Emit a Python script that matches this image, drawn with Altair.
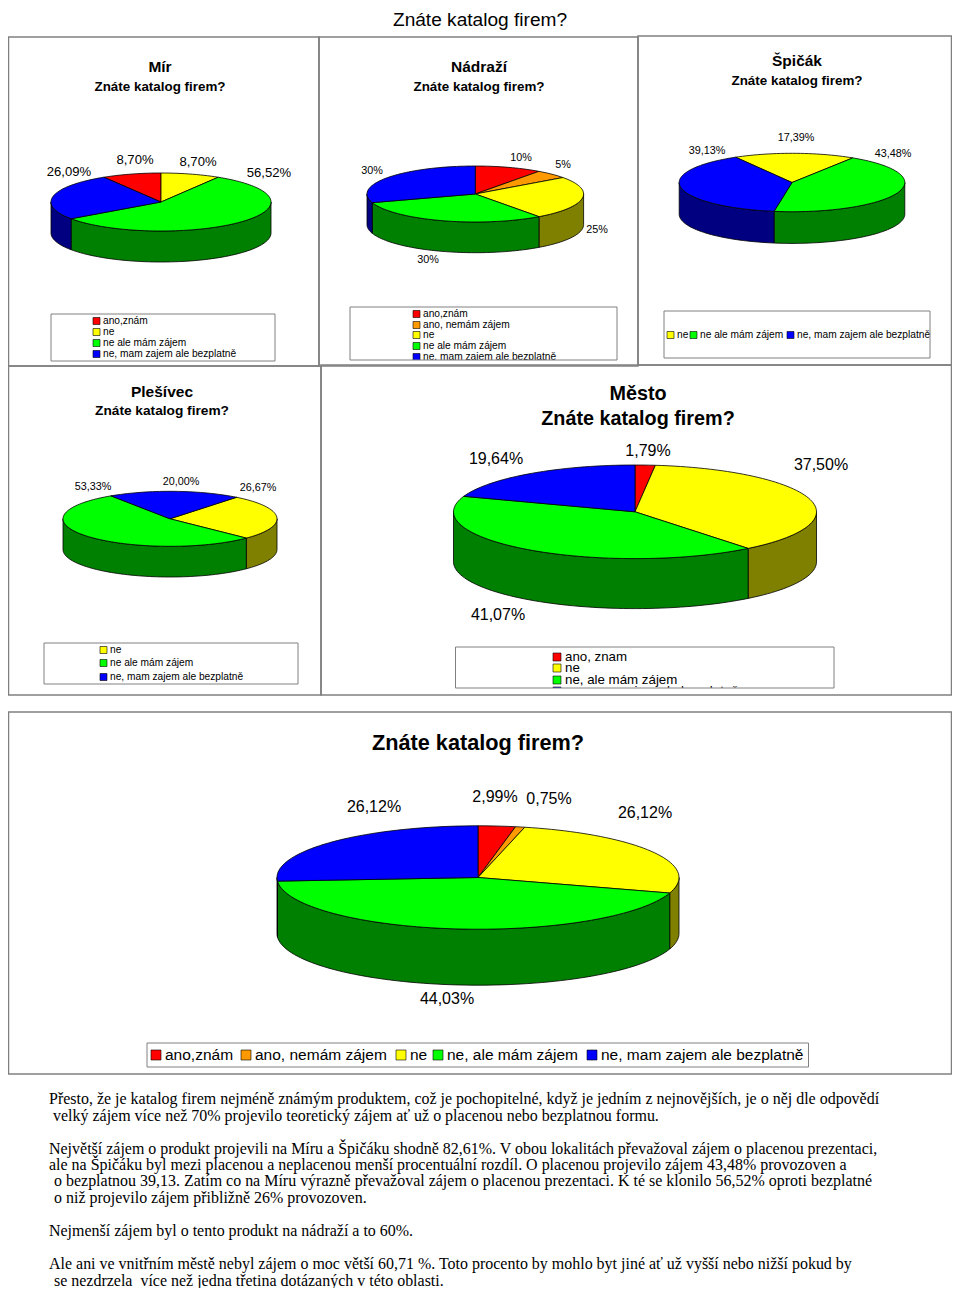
import math
import altair as alt
import pandas as pd

QUESTION = "Znáte katalog firem?"
RED, ORANGE, YELLOW, GREEN, BLUE = "#ff0000", "#ff9900", "#ffff00", "#00ff00", "#0000ff"
DARK = {RED: "#800000", ORANGE: "#804d00", YELLOW: "#808000", GREEN: "#008000", BLUE: "#000080"}
GREY = "#808080"

mir_values = [8.70, 8.70, 56.52, 26.09]
mir_colors = [RED, YELLOW, GREEN, BLUE]
mir_legend = ["ano,znám", "ne", "ne ale mám zájem", "ne, mam zajem ale bezplatně"]

nadrazi_values = [10, 5, 25, 30, 30]
nadrazi_colors = [RED, ORANGE, YELLOW, GREEN, BLUE]
nadrazi_legend = ["ano,znám", "ano, nemám zájem", "ne", "ne ale mám zájem", "ne, mam zajem ale bezplatně"]

spicak_values = [17.39, 43.48, 39.13]
spicak_colors = [YELLOW, GREEN, BLUE]
spicak_legend = ["ne", "ne ale mám zájem", "ne, mam zajem ale bezplatně"]

plesivec_values = [26.67, 53.33, 20.00]
plesivec_colors = [YELLOW, GREEN, BLUE]
plesivec_legend = ["ne", "ne ale mám zájem", "ne, mam zajem ale bezplatně"]

mesto_values = [1.79, 37.50, 41.07, 19.64]
mesto_colors = [RED, YELLOW, GREEN, BLUE]
mesto_legend = ["ano, znam", "ne", "ne, ale mám zájem", "ne, mam zajem ale bezplatně"]

celkem_values = [2.99, 0.75, 26.12, 44.03, 26.12]
celkem_colors = [RED, ORANGE, YELLOW, GREEN, BLUE]
celkem_legend = ["ano,znám", "ano, nemám zájem", "ne", "ne, ale mám zájem", "ne, mam zajem ale bezplatně"]

body_lines = [
    "Přesto, že je katalog firem nejméně známým produktem, což je pochopitelné, když je jedním z nejnovějších, je o něj dle odpovědí",
    "velký zájem více než 70% projevilo teoretický zájem ať už o placenou nebo bezplatnou formu.",
    "Největší zájem o produkt projevili na Míru a Špičáku shodně 82,61%. V obou lokalitách převažoval zájem o placenou prezentaci,",
    "ale na Špičáku byl mezi placenou a neplacenou menší procentuální rozdíl. O placenou projevilo zájem 43,48% provozoven a",
    "o bezplatnou 39,13. Zatím co na Míru výrazně převažoval zájem o placenou prezentaci. K té se klonilo 56,52% oproti bezplatné",
    "o niž projevilo zájem přibližně 26% provozoven.",
    "Nejmenší zájem byl o tento produkt na nádraží a to 60%.",
    "Ale ani ve vnitřním městě nebyl zájem o moc větší 60,71 %. Toto procento by mohlo byt jiné ať už vyšší nebo nižší pokud by",
    "se nezdrzela\u00a0 více než jedna třetina dotázaných v této oblasti.",
]

# ---- layout -------------------------------------------------------------
panels = [
    dict(values=mir_values, colors=mir_colors, legend=mir_legend, fmt="{:.2f}",
         box=(8.5, 37, 319, 366), cx=161, cy=202, rx=110, ry=29, th=31, start=-31.3,
         title=[("Mír", 160, 67, 15.5), (QUESTION, 160, 87, 13.4)], lab_size=13.1,
         lab_pos=[(135, 160), (198, 162), (269, 173), (69, 172)],
         leg_box=(51, 314, 275, 361), leg_size=10.2,
         leg_pos=[(93, 321), (93, 332), (93, 343), (93, 354)], sw=7, gap=3),
    dict(values=nadrazi_values, colors=nadrazi_colors, legend=nadrazi_legend, fmt="{:.0f}",
         box=(319, 37, 638, 366), cx=475.3, cy=194, rx=108.3, ry=28, th=30.7, start=0,
         title=[("Nádraží", 479, 67, 15.5), (QUESTION, 479, 87, 13.4)], lab_size=10.8,
         lab_pos=[(521, 158), (563, 165), (597, 230), (428, 260), (372, 171)],
         leg_box=(350, 307, 617, 360), leg_size=10.2,
         leg_pos=[(413, 314), (413, 325), (413, 335), (413, 346), (413, 357)], sw=7, gap=3),
    dict(values=spicak_values, colors=spicak_colors, legend=spicak_legend, fmt="{:.2f}",
         box=(638, 36, 951.5, 365), cx=792, cy=182.5, rx=112.8, ry=29.2, th=31.7, start=-30,
         title=[("Špičák", 797, 61, 15.5), (QUESTION, 797, 81, 13.4)], lab_size=10.8,
         lab_pos=[(796, 138), (893, 154), (707, 151)],
         leg_box=(664, 311, 930, 358), leg_size=10.2,
         leg_pos=[(667, 335), (690, 335), (787, 335)], sw=7, gap=3),
    dict(values=plesivec_values, colors=plesivec_colors, legend=plesivec_legend, fmt="{:.2f}",
         box=(8.5, 366, 321, 695), cx=170, cy=518.8, rx=107, ry=27.5, th=30.7, start=38.5,
         title=[("Plešívec", 162, 392, 15.5), (QUESTION, 162, 411, 13.7)], lab_size=10.8,
         lab_pos=[(258, 488), (93, 487), (181, 482)],
         leg_box=(44, 643, 298, 684), leg_size=10.2,
         leg_pos=[(100, 650), (100, 663), (100, 677)], sw=7, gap=3),
    dict(values=mesto_values, colors=mesto_colors, legend=mesto_legend, fmt="{:.2f}",
         box=(321, 365, 951.5, 695), cx=635, cy=511.8, rx=181.5, ry=46.8, th=50, start=0,
         title=[("Město", 638, 394, 19.8), (QUESTION, 638, 419, 19.8)], lab_size=16,
         lab_pos=[(648, 451), (821, 465), (498, 615), (496, 459)],
         leg_box=(455.5, 647, 834, 688), leg_size=13.3,
         leg_pos=[(553, 657), (553, 668), (553, 680), (553, 691)], sw=8, gap=4),
    dict(values=celkem_values, colors=celkem_colors, legend=celkem_legend, fmt="{:.2f}",
         box=(8.5, 712, 951.5, 1074), cx=478, cy=877.5, rx=201, ry=51.7, th=56, start=0,
         title=[(QUESTION, 478, 743, 21.7)], lab_size=16,
         lab_pos=[(495, 797), (549, 799), (645, 813), (447, 999), (374, 807)],
         leg_box=(147, 1043, 808.5, 1067), leg_size=15.5,
         leg_pos=[(151, 1055), (241, 1055), (396, 1055), (433, 1055), (587, 1055)], sw=10, gap=4),
]
body_pos = [(49, 1099), (53, 1116), (49, 1149), (49, 1165), (54, 1181), (54, 1198), (49, 1231), (49, 1264), (54, 1281)]
BODY_SIZE = 15.98

# ---- derive tables ------------------------------------------------------
def rim(p, deg, drop=0.0):
    a = math.radians(deg)
    return p["cx"] + p["rx"] * math.sin(a), p["cy"] - p["ry"] * math.cos(a) + drop

tops, walls, texts, bold, legend_text, swatches = [], [], [], [], [], []
boxes, covers = [], []
pid = 0
for p in panels:
    total = sum(p["values"])
    a0 = p["start"]
    for v, c in zip(p["values"], p["colors"]):
        a1 = a0 + v / total * 360
        n = max(2, int(abs(a1 - a0) / 2))
        arc = [a0 + (a1 - a0) * k / n for k in range(n + 1)]
        poly = [(p["cx"], p["cy"])] + [rim(p, a) for a in arc] + [(p["cx"], p["cy"])]
        pid += 1
        tops += [dict(id=pid, i=i, x=x, y=y, fill=c) for i, (x, y) in enumerate(poly)]
        # the outer wall shows only on the front half of the disc
        for shift in (0, 360, -360):
            lo, hi = max(a0 + shift, 90), min(a1 + shift, 270)
            if hi > lo:
                n = max(2, int((hi - lo) / 2))
                arc = [lo + (hi - lo) * k / n for k in range(n + 1)]
                poly = [rim(p, a) for a in arc] + [rim(p, a, p["th"]) for a in reversed(arc)]
                poly.append(poly[0])
                pid += 1
                walls += [dict(id=pid, i=i, x=x, y=y, fill=DARK[c]) for i, (x, y) in enumerate(poly)]
        a0 = a1
    for v, (x, y) in zip(p["values"], p["lab_pos"]):
        texts.append(dict(x=x, y=y, text=p["fmt"].format(v).replace(".", ",") + "%", size=p["lab_size"]))
    for t, x, y, s in p["title"]:
        bold.append(dict(x=x, y=y, text=t, size=s))
    for name, c, (x, y) in zip(p["legend"], p["colors"], p["leg_pos"]):
        sw = p["sw"]
        swatches.append(dict(x=x, x2=x + sw, y=y - sw / 2, y2=y + sw / 2, fill=c))
        legend_text.append(dict(x=x + sw + p["gap"], y=y, text=name, size=p["leg_size"]))
    lb = p["leg_box"]
    covers.append(dict(x=lb[0], x2=lb[2], y=lb[3], y2=lb[3] + 10))
    boxes.append(dict(x=lb[0], x2=lb[2], y=lb[1], y2=lb[3], w=1))
    b = p["box"]
    boxes.append(dict(x=b[0], x2=b[2], y=b[1], y2=b[3], w=1.5))

texts.append(dict(x=480, y=20, text=QUESTION, size=19.1))
body = [dict(x=x, y=y, text=t, size=BODY_SIZE) for t, (x, y) in zip(body_lines, body_pos)]

# ---- marks --------------------------------------------------------------
W, H = 944, 1280
sx = alt.Scale(domain=[8, 8 + W], nice=False, zero=False)
sy = alt.Scale(domain=[8 + H, 8], nice=False, zero=False)
X = alt.X("x:Q", scale=sx, axis=None)
Y = alt.Y("y:Q", scale=sy, axis=None)

def polys(rows):
    return alt.Chart(pd.DataFrame(rows)).mark_line(stroke="black", strokeWidth=0.8, strokeJoin="round").encode(
        x=X, y=Y, detail="id:N", order="i:Q", fill=alt.Fill("fill:N", scale=None))

def words(rows, **kw):
    return alt.Chart(pd.DataFrame(rows)).mark_text(baseline="middle", color="black", **kw).encode(
        x=X, y=Y, text="text:N", size=alt.Size("size:Q", scale=None))

SANS, SERIF = "Liberation Sans", "Liberation Serif"
layers = [
    polys(walls), polys(tops),
    words(texts, font=SANS, align="center"),
    words(bold, font=SANS, align="center", fontWeight="bold"),
    words(legend_text, font=SANS, align="left"),
    words(body, font=SERIF, align="left"),
    alt.Chart(pd.DataFrame(swatches)).mark_rect(stroke="black", strokeWidth=0.6).encode(
        x=X, x2="x2:Q", y=Y, y2="y2:Q", fill=alt.Fill("fill:N", scale=None)),
    alt.Chart(pd.DataFrame(covers)).mark_rect(fill="white").encode(x=X, x2="x2:Q", y=Y, y2="y2:Q"),
]
for w, grp in pd.DataFrame(boxes).groupby("w"):
    layers.append(alt.Chart(grp).mark_rect(fillOpacity=0, stroke=GREY, strokeWidth=float(w)).encode(
        x=X, x2="x2:Q", y=Y, y2="y2:Q"))

chart = alt.layer(*layers).properties(width=W, height=H, padding=0, autosize="none", background="white").configure_view(stroke=None)
chart.save("out.html", embed_options={"renderer": "svg", "actions": False})
